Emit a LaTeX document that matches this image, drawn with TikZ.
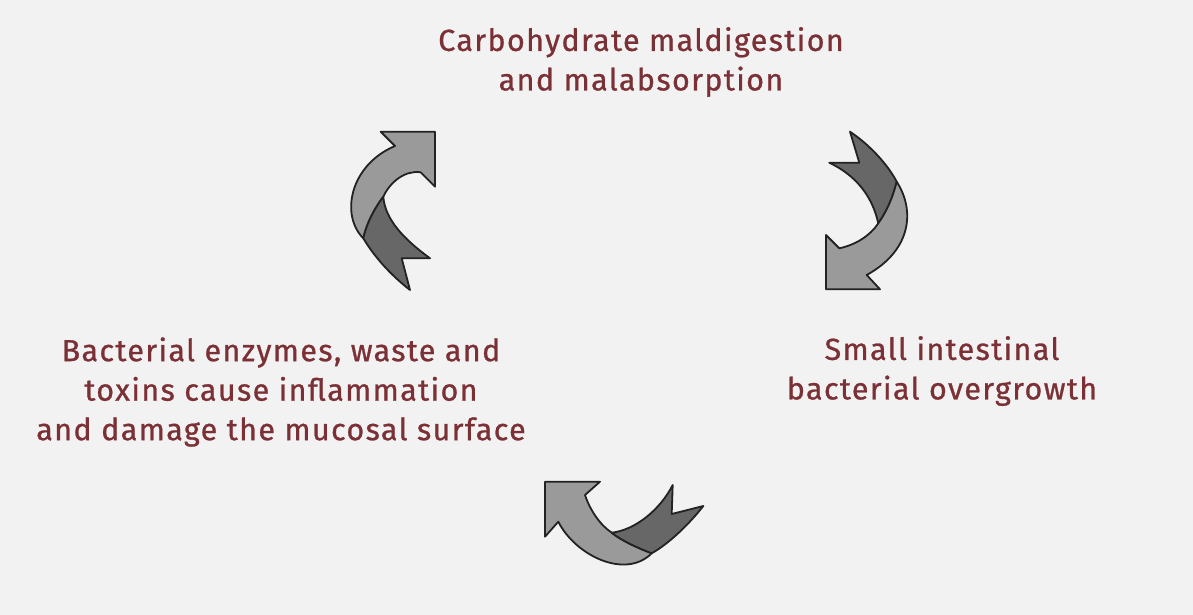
\documentclass[tikz,border=0pt]{standalone}
\usepackage{fontspec}
\setmainfont[LetterSpace=4.5,FakeBold=0.8]{Fira Sans}
\definecolor{bg}{HTML}{F2F2F2}
\definecolor{txt}{HTML}{7B3035}
\definecolor{lightg}{HTML}{9A9A9A}
\definecolor{darkg}{HTML}{676767}
\definecolor{edge}{HTML}{222222}
\tikzset{
  lab/.style={text=txt, align=center, font=\fontsize{30.5}{39.5}\selectfont, inner sep=0pt},
  lightpart/.style={fill=lightg, draw=edge, line width=1.8pt, line join=round},
  darkpart/.style={fill=darkg, draw=edge, line width=1.8pt, line join=round}
}
\begin{document}
\begin{tikzpicture}[x=1pt,y=-1pt]
\fill[bg] (0,0) rectangle (1193,615);
\useasboundingbox (0,0) rectangle (1193,615);

% labels
\node[lab] (top) at (641,62) {Carbohydrate maldigestion\\and malabsorption};
\node[lab] (right) at (942,371) {Small intestinal\\bacterial overgrowth};
\node[lab] (left) at (281,392) {Bacterial enzymes, waste and\\toxins cause inflammation\\and damage the mucosal surface};

% arrow 1 (left, pointing up-right)
\draw[lightpart] (363.3,238.3) .. controls (340,215) and (350,165) .. (395,146)
  -- (380.7,131.7) -- (435,131.7) -- (435,186.7) -- (420.7,172.3)
  .. controls (405,170) and (390,182) .. (383.3,196.7)
  .. controls (372,212) and (366,226) .. (363.3,238.3) -- cycle;
\draw[darkpart] (363.3,238.3) .. controls (375,258) and (392,276) .. (410,290)
  -- (401.7,258.3) -- (430,258.3)
  .. controls (405,240) and (385,220) .. (383.3,196.7)
  .. controls (372,212) and (366,226) .. (363.3,238.3) -- cycle;

% arrow 2 (right, pointing down-left)
\draw[darkpart] (850,131.7) .. controls (870,145) and (888,165) .. (896.7,181.7)
  .. controls (893,197) and (887,211) .. (878.3,223.3)
  .. controls (872,195) and (855,175) .. (829.3,162.7)
  -- (859.3,162.7) -- cycle;
\draw[lightpart] (896.7,181.7) .. controls (915,210) and (912,250) .. (866.7,275)
  -- (880,289.3) -- (826,289.3) -- (826,235) -- (839.3,248.3)
  .. controls (855,245) and (870,236) .. (878.3,223.3)
  .. controls (887,211) and (893,197) .. (896.7,181.7) -- cycle;

% arrow 3 (bottom, pointing up-left)
\draw[lightpart] (611.7,532.7) .. controls (600,525) and (590,510) .. (585,495)
  -- (600,481.7) -- (545,481.7) -- (545,536.7) -- (558.3,521.7)
  .. controls (575,555) and (625,580) .. (651.7,553.3)
  .. controls (638,548) and (622,541) .. (611.7,532.7) -- cycle;
\draw[darkpart] (651.7,553.3) .. controls (670,543) and (690,523) .. (703.3,506)
  -- (671.7,514) -- (672.7,485)
  .. controls (660,510) and (635,530) .. (611.7,532.7)
  .. controls (622,541) and (638,548) .. (651.7,553.3) -- cycle;
\end{tikzpicture}
\end{document}
